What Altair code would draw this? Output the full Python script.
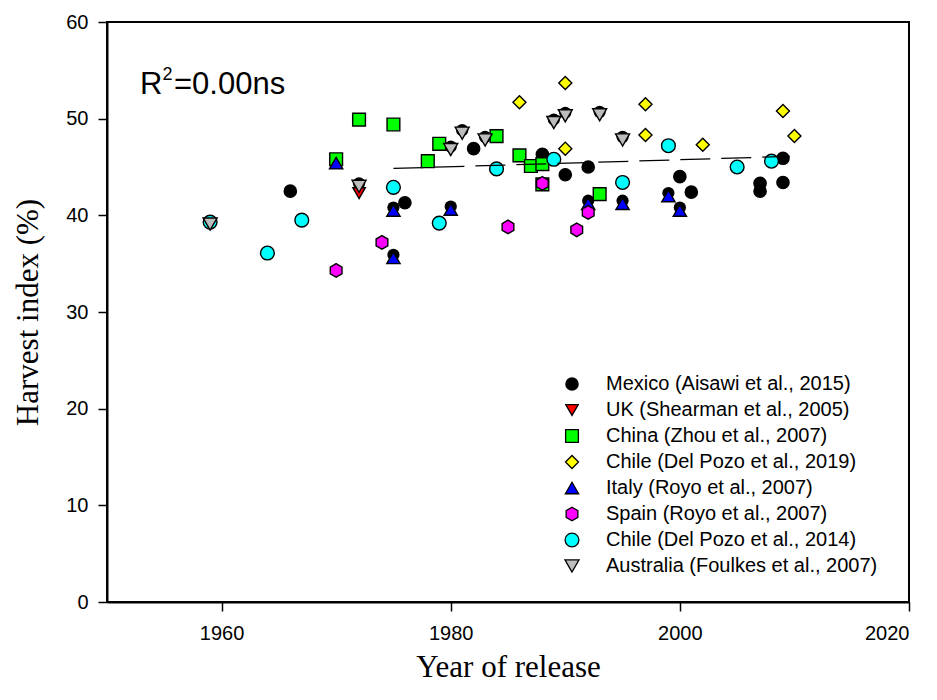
import altair as alt
import pandas as pd

# ---- series labels (legend order) ----
series = [
    "Mexico (Aisawi et al., 2015)",
    "UK (Shearman et al., 2005)",
    "China (Zhou et al., 2007)",
    "Chile (Del Pozo et al., 2019)",
    "Italy (Royo et al., 2007)",
    "Spain (Royo et al., 2007)",
    "Chile (Del Pozo et al., 2014)",
    "Australia (Foulkes et al., 2007)",
]

# ---- year of release / harvest index (%) per series ----
mexico_year = [1966, 1976, 1982, 1988, 1990, 1992, 2000, 2001, 2007, 2007, 2009, 2009]
mexico_hi = [42.5, 41.3, 46.9, 46.3, 44.2, 45.0, 44.0, 42.4, 43.3, 42.5, 45.9, 43.4]

uk_year = [1972]
uk_hi = [42.3]

china_year = [1970, 1972, 1975, 1978, 1979, 1984, 1986, 1987, 1988, 1988, 1993]
china_hi = [45.8, 49.9, 49.4, 45.6, 47.4, 48.2, 46.2, 45.1, 45.3, 43.2, 42.2]

chile19_year = [1986, 1990, 1990, 1997, 1997, 2002, 2009, 2010]
chile19_hi = [51.7, 53.7, 46.9, 51.5, 48.3, 47.3, 50.8, 48.2]

italy_year = [1970, 1975, 1975, 1980, 1992, 1995, 1999, 2000]
italy_hi = [45.4, 40.5, 35.6, 40.6, 41.2, 41.2, 42.0, 40.5]

spain_year = [1970, 1974, 1985, 1988, 1991, 1992]
spain_hi = [34.3, 37.2, 38.8, 43.3, 38.5, 40.3]

chile14_year = [1959, 1964, 1967, 1975, 1979, 1984, 1989, 1995, 1999, 2005, 2008]
chile14_hi = [39.3, 36.1, 39.5, 42.9, 39.2, 44.8, 45.8, 43.4, 47.2, 45.0, 45.6]

australia_year = [1959, 1972, 1980, 1981, 1983, 1989, 1990, 1993, 1995]
australia_hi = [39.1, 43.0, 46.8, 48.5, 47.8, 49.6, 50.3, 50.4, 47.8]

# fitted trend (end points)
fit_year = [1975, 2009.6]
fit_hi = [44.85, 46.1]

# ---- symbol styling ----
hexagon = "M0,-1L0.866,-0.5L0.866,0.5L0,1L-0.866,0.5L-0.866,-0.5Z"
fills = ["#000000", "#ff0000", "#00ff00", "#ffff00", "#0000ff", "#ff00ff", "#00ffff", "#bdbdbd"]
shapes = ["circle", "triangle-down", "square", "diamond", "triangle-up", hexagon, "circle", "triangle-down"]
sizes = [150, 196, 144, 225, 196, 200, 150, 196]

years = [mexico_year, uk_year, china_year, chile19_year, italy_year, spain_year, chile14_year, australia_year]
values = [mexico_hi, uk_hi, china_hi, chile19_hi, italy_hi, spain_hi, chile14_hi, australia_hi]

rows = []
for name, ys, vs in zip(series, years, values):
    for y, v in zip(ys, vs):
        rows.append({"series": name, "year": y, "hi": v})
points = pd.DataFrame(rows)

# dark backing disc drawn under the triangle symbols
no_backing = {(series[4], 1970), (series[7], 1959)}
tri = points[points["series"].isin([series[4], series[7]])]
backing = tri[[(s, y) not in no_backing for s, y in zip(tri["series"], tri["year"])]]

fit = pd.DataFrame({"year": fit_year, "hi": fit_hi})

x_enc = alt.X("year:Q", scale=alt.Scale(domain=[1950, 2020], nice=False, zero=False),
              axis=alt.Axis(values=[1960, 1980, 2000, 2020], title="Year of release",
                            format="d", labelPadding=12, titleY=74,
                            titleBaseline="alphabetic"))
y_enc = alt.Y("hi:Q", scale=alt.Scale(domain=[0, 60], nice=False),
              axis=alt.Axis(values=[0, 10, 20, 30, 40, 50, 60], title="Harvest index (%)",
                            labelPadding=10, titleX=-70, titleY=290, titleAngle=-90,
                            titleAlign="center", titleBaseline="alphabetic"))

backing_layer = alt.Chart(backing).mark_point(
    shape="circle", filled=True, color="black", size=150, opacity=1, yOffset=-3
).encode(x=x_enc, y=y_enc)

legend = alt.Legend(title=None, orient="none", legendX=455, legendY=352,
                    labelFont="Liberation Sans", labelFontSize=20, labelColor="black",
                    labelOffset=24, labelLimit=0, rowPadding=6, padding=0,
                    symbolStrokeWidth=1.3, symbolOpacity=1)

point_layer = alt.Chart(points).mark_point(
    filled=True, strokeWidth=1.4, opacity=1
).encode(
    x=x_enc,
    y=y_enc,
    fill=alt.Fill("series:N", scale=alt.Scale(domain=series, range=fills), legend=legend),
    stroke=alt.Stroke("series:N", scale=alt.Scale(domain=series, range=["black"] * len(series)),
                      legend=legend),
    shape=alt.Shape("series:N", scale=alt.Scale(domain=series, range=shapes), legend=legend),
    size=alt.Size("series:N", scale=alt.Scale(domain=series, range=sizes), legend=legend),
)

fit_layer = alt.Chart(fit).mark_line(
    color="black", strokeWidth=1.3, strokeDash=[30, 11]
).encode(x=x_enc, y=y_enc)

# R-squared annotation with superscript
r_main = alt.Chart(pd.DataFrame({"t": ["R"]})).mark_text(
    font="Liberation Sans", fontSize=31, align="left", baseline="alphabetic", color="black"
).encode(text="t:N", x=alt.value(33), y=alt.value(72))
r_sup = alt.Chart(pd.DataFrame({"t": ["2"]})).mark_text(
    font="Liberation Sans", fontSize=18, align="left", baseline="alphabetic", color="black"
).encode(text="t:N", x=alt.value(55.5), y=alt.value(57.5))
r_rest = alt.Chart(pd.DataFrame({"t": ["=0.00ns"]})).mark_text(
    font="Liberation Sans", fontSize=31, align="left", baseline="alphabetic", color="black"
).encode(text="t:N", x=alt.value(67), y=alt.value(72))

chart = alt.layer(
    backing_layer, point_layer, fit_layer, r_main, r_sup, r_rest
).properties(
    width=802, height=580,
    autosize=alt.AutoSizeParams(type="none"),
    padding={"left": 107, "top": 22, "right": 28, "bottom": 98},
    background="white",
).configure_view(
    stroke="black", strokeWidth=2
).configure_axis(
    grid=False, domainColor="black", domainWidth=2, tickColor="black", tickWidth=1.5,
    tickSize=9, labelFont="Liberation Sans", labelFontSize=20, labelColor="black",
    titleFont="Liberation Serif", titleFontSize=31, titleFontWeight="normal",
    titleColor="black",
)

chart.save("out.html", embed_options={"renderer": "svg", "actions": False})
